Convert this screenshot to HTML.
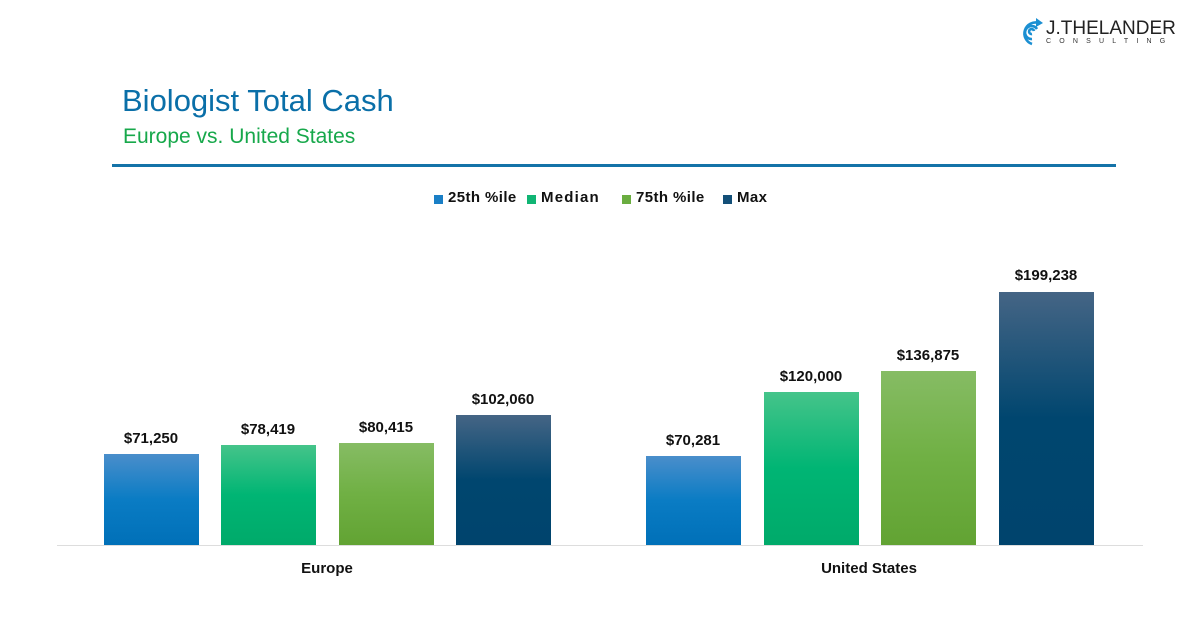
<!DOCTYPE html>
<html><head><meta charset="utf-8"><style>
body{margin:0;width:1200px;height:618px;background:#fff;position:relative;overflow:hidden;font-family:"Liberation Sans",sans-serif}
.a{position:absolute}
.bar{position:absolute;bottom:73px;width:95px}
.lbl{position:absolute;width:140px;text-align:center;font-weight:bold;font-size:15px;color:#111}
.b{background:linear-gradient(#4a8ecb,#0a7cc4 50%,#0070b8)}
.g{background:linear-gradient(#45c48a,#00b574 50%,#00aa6a)}
.l{background:linear-gradient(#86bc64,#70b044 50%,#62a333)}
.d{background:linear-gradient(#456585,#00466f 50%,#00446d)}
.sq{position:absolute;top:195px;width:9px;height:9px}
.lt{position:absolute;top:189px;font-size:15px;font-weight:bold;color:#111;letter-spacing:0.4px;white-space:nowrap}
</style></head><body>
<svg class="a" style="left:1019px;top:17px" width="26" height="30" viewBox="0 0 26 30">
<path d="M13 27 A11 11 0 1 1 20 6 M13 22 A6.5 6.5 0 1 1 18 12 M13 17 A2.5 2.5 0 1 1 15 14" fill="none" stroke="#1b8fd2" stroke-width="2.6"/>
<path d="M17 1 L24 6 L17 10 Z" fill="#1b8fd2"/></svg>
<div class="a" style="left:1046px;top:18px;font-size:19px;color:#222">J.THELANDER</div>
<div class="a" style="left:1046px;top:38px;font-size:7px;color:#333;letter-spacing:8.2px">CONSULTING</div>
<div class="a" style="left:122px;top:83px;font-size:31px;color:#0a6fa8">Biologist Total Cash</div>
<div class="a" style="left:123px;top:125px;font-size:21px;color:#17a84b">Europe vs. United States</div>
<div class="a" style="left:112px;top:164px;width:1004px;height:3px;background:#1473a8"></div>
<div class="sq" style="left:434px;background:#1a7fc6"></div><div class="lt" style="left:448px">25th %ile</div>
<div class="sq" style="left:527px;background:#10b574"></div><div class="lt" style="left:541px;letter-spacing:1.2px">Median</div>
<div class="sq" style="left:622px;background:#6aad40"></div><div class="lt" style="left:636px">75th %ile</div>
<div class="sq" style="left:723px;background:#134f78"></div><div class="lt" style="left:737px">Max</div>
<div class="a" style="left:57px;top:545px;width:1086px;height:1px;background:#ddd"></div>
<div class="bar b" style="left:104px;height:91px"></div>
<div class="bar g" style="left:221px;height:100px"></div>
<div class="bar l" style="left:339px;height:102px"></div>
<div class="bar d" style="left:456px;height:130px"></div>
<div class="bar b" style="left:646px;height:89px"></div>
<div class="bar g" style="left:764px;height:153px"></div>
<div class="bar l" style="left:881px;height:174px"></div>
<div class="bar d" style="left:999px;height:253px"></div>
<div class="lbl" style="left:81px;top:430px">$71,250</div>
<div class="lbl" style="left:198px;top:421px">$78,419</div>
<div class="lbl" style="left:316px;top:419px">$80,415</div>
<div class="lbl" style="left:433px;top:391px">$102,060</div>
<div class="lbl" style="left:623px;top:432px">$70,281</div>
<div class="lbl" style="left:741px;top:368px">$120,000</div>
<div class="lbl" style="left:858px;top:347px">$136,875</div>
<div class="lbl" style="left:976px;top:267px">$199,238</div>
<div class="lbl" style="left:257px;top:560px">Europe</div>
<div class="lbl" style="left:799px;top:560px">United States</div>
</body></html>
